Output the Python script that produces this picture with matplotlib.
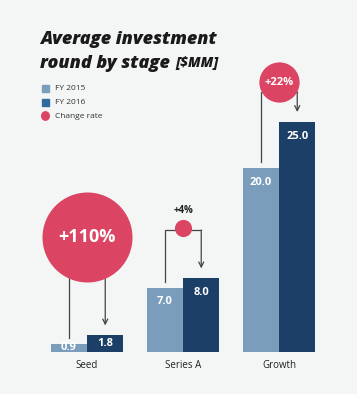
import numpy as np
import matplotlib.pyplot as plt
from matplotlib.patches import Rectangle, Circle

stages = ["Seed", "Series A", "Growth"]
fy2015 = [0.9, 7.0, 20.0]
fy2016 = [1.8, 8.0, 25.0]
change_pct = [110, 4, 22]

# colours
bg = "#f4f5f5"
c15 = "#7a9dbc"
c16 = "#1b3f66"
c16_legend = "#2f6b9e"
c_rate = "#dc4463"
c_line = "#444444"

plt.rcParams['font.family'] = ['Open Sans', 'DejaVu Sans']

PX = 9.2    # pixels per $MM
XPX = 96    # pixels per category step
fig = plt.figure(figsize=(3.57, 3.94), dpi=100)
fig.patch.set_facecolor(bg)
ax = fig.add_axes([0, 0, 1, 1])
ax.set_facecolor(bg)
ax.set_xlim(-87 / XPX, 270 / XPX)
ax.set_ylim(-42 / PX, 352 / PX)
ax.axis("off")

x = np.arange(len(stages))
w = 0.38
ax.bar(x - w / 2, fy2015, w, color=c15, zorder=2)
ax.bar(x + w / 2, fy2016, w, color=c16, zorder=2)

# value labels inside the bars
for xs, vals in ((x - w / 2, fy2015), (x + w / 2, fy2016)):
    for xi, v in zip(xs, vals):
        if v * PX > 30:
            yl = v - 14 / PX
        else:
            yl = v / 2
        ax.text(xi, yl, f"{v:.1f}", color="white", fontsize=8, fontweight="bold",
                ha="center", va="center", zorder=4)

# stage labels
for xi, s in zip(x, stages):
    ax.text(xi, -13 / PX, s, fontsize=7, color="#222222", ha="center", va="center")

# change-rate bubbles with connectors
bubble_y = [12.5, 13.5, 29.3]
link_y = [12.5, 13.25, 28.25]
big_r = 45  # px radius for the largest change
for xi, a, b, pct, by, ly in zip(x, fy2015, fy2016, change_pct, bubble_y, link_y):
    xl, xr = xi - w / 2, xi + w / 2
    ax.plot([xl, xl, xr], [a + 6 / PX, ly, ly], color=c_line, lw=0.9, zorder=1,
            solid_joinstyle="miter")
    ax.annotate("", xy=(xr, b + 10 / PX), xytext=(xr, ly),
                arrowprops=dict(arrowstyle="->", color=c_line, lw=0.9,
                                shrinkA=0, shrinkB=0, mutation_scale=9),
                zorder=1)
    r = big_r * np.sqrt(pct / max(change_pct))
    s = (2 * r * 0.72) ** 2
    ax.scatter([xi], [by], s=s, color=c_rate, zorder=3, linewidths=0)
    if r > 12:
        fs = 13 if r > 30 else 8
        ax.text(xi, by, f"+{pct}%", color="white", fontsize=fs, fontweight="bold",
                ha="center", va="center", zorder=4)
    else:
        ax.text(xi, by + (r + 9) / PX, f"+{pct}%", color="#222222", fontsize=7,
                fontweight="bold", ha="center", va="center", zorder=4)

# title
fig.text(40 / 357, 1 - 40 / 394, "Average investment", fontsize=13, fontweight="heavy",
         style="italic", color="#1a1a1a", ha="left", va="center")
fig.text(40 / 357, 1 - 63 / 394, "round by stage", fontsize=13, fontweight="heavy",
         style="italic", color="#1a1a1a", ha="left", va="center")
fig.text(175 / 357, 1 - 63 / 394, "[$MM]", fontsize=10, fontweight="heavy",
         style="italic", color="#1a1a1a", ha="left", va="center")

# legend
leg_items = [("FY 2015", c15, "sq"), ("FY 2016", c16_legend, "sq"), ("Change rate", c_rate, "dot")]
for i, (lab, col, kind) in enumerate(leg_items):
    yc = 1 - (88 + i * 14) / 394
    if kind == "sq":
        fig.patches.append(Rectangle((42 / 357, yc - 3.5 / 394), 7 / 357, 7 / 394,
                                     transform=fig.transFigure, color=col))
    else:
        fig.patches.append(Circle((45.5 / 357, yc), 3.8 / 357, transform=fig.transFigure,
                                  color=col))
    fig.text(55 / 357, yc, lab, fontsize=6, color="#333333", ha="left", va="center")

fig.savefig("out.png", dpi=100, facecolor=bg)
